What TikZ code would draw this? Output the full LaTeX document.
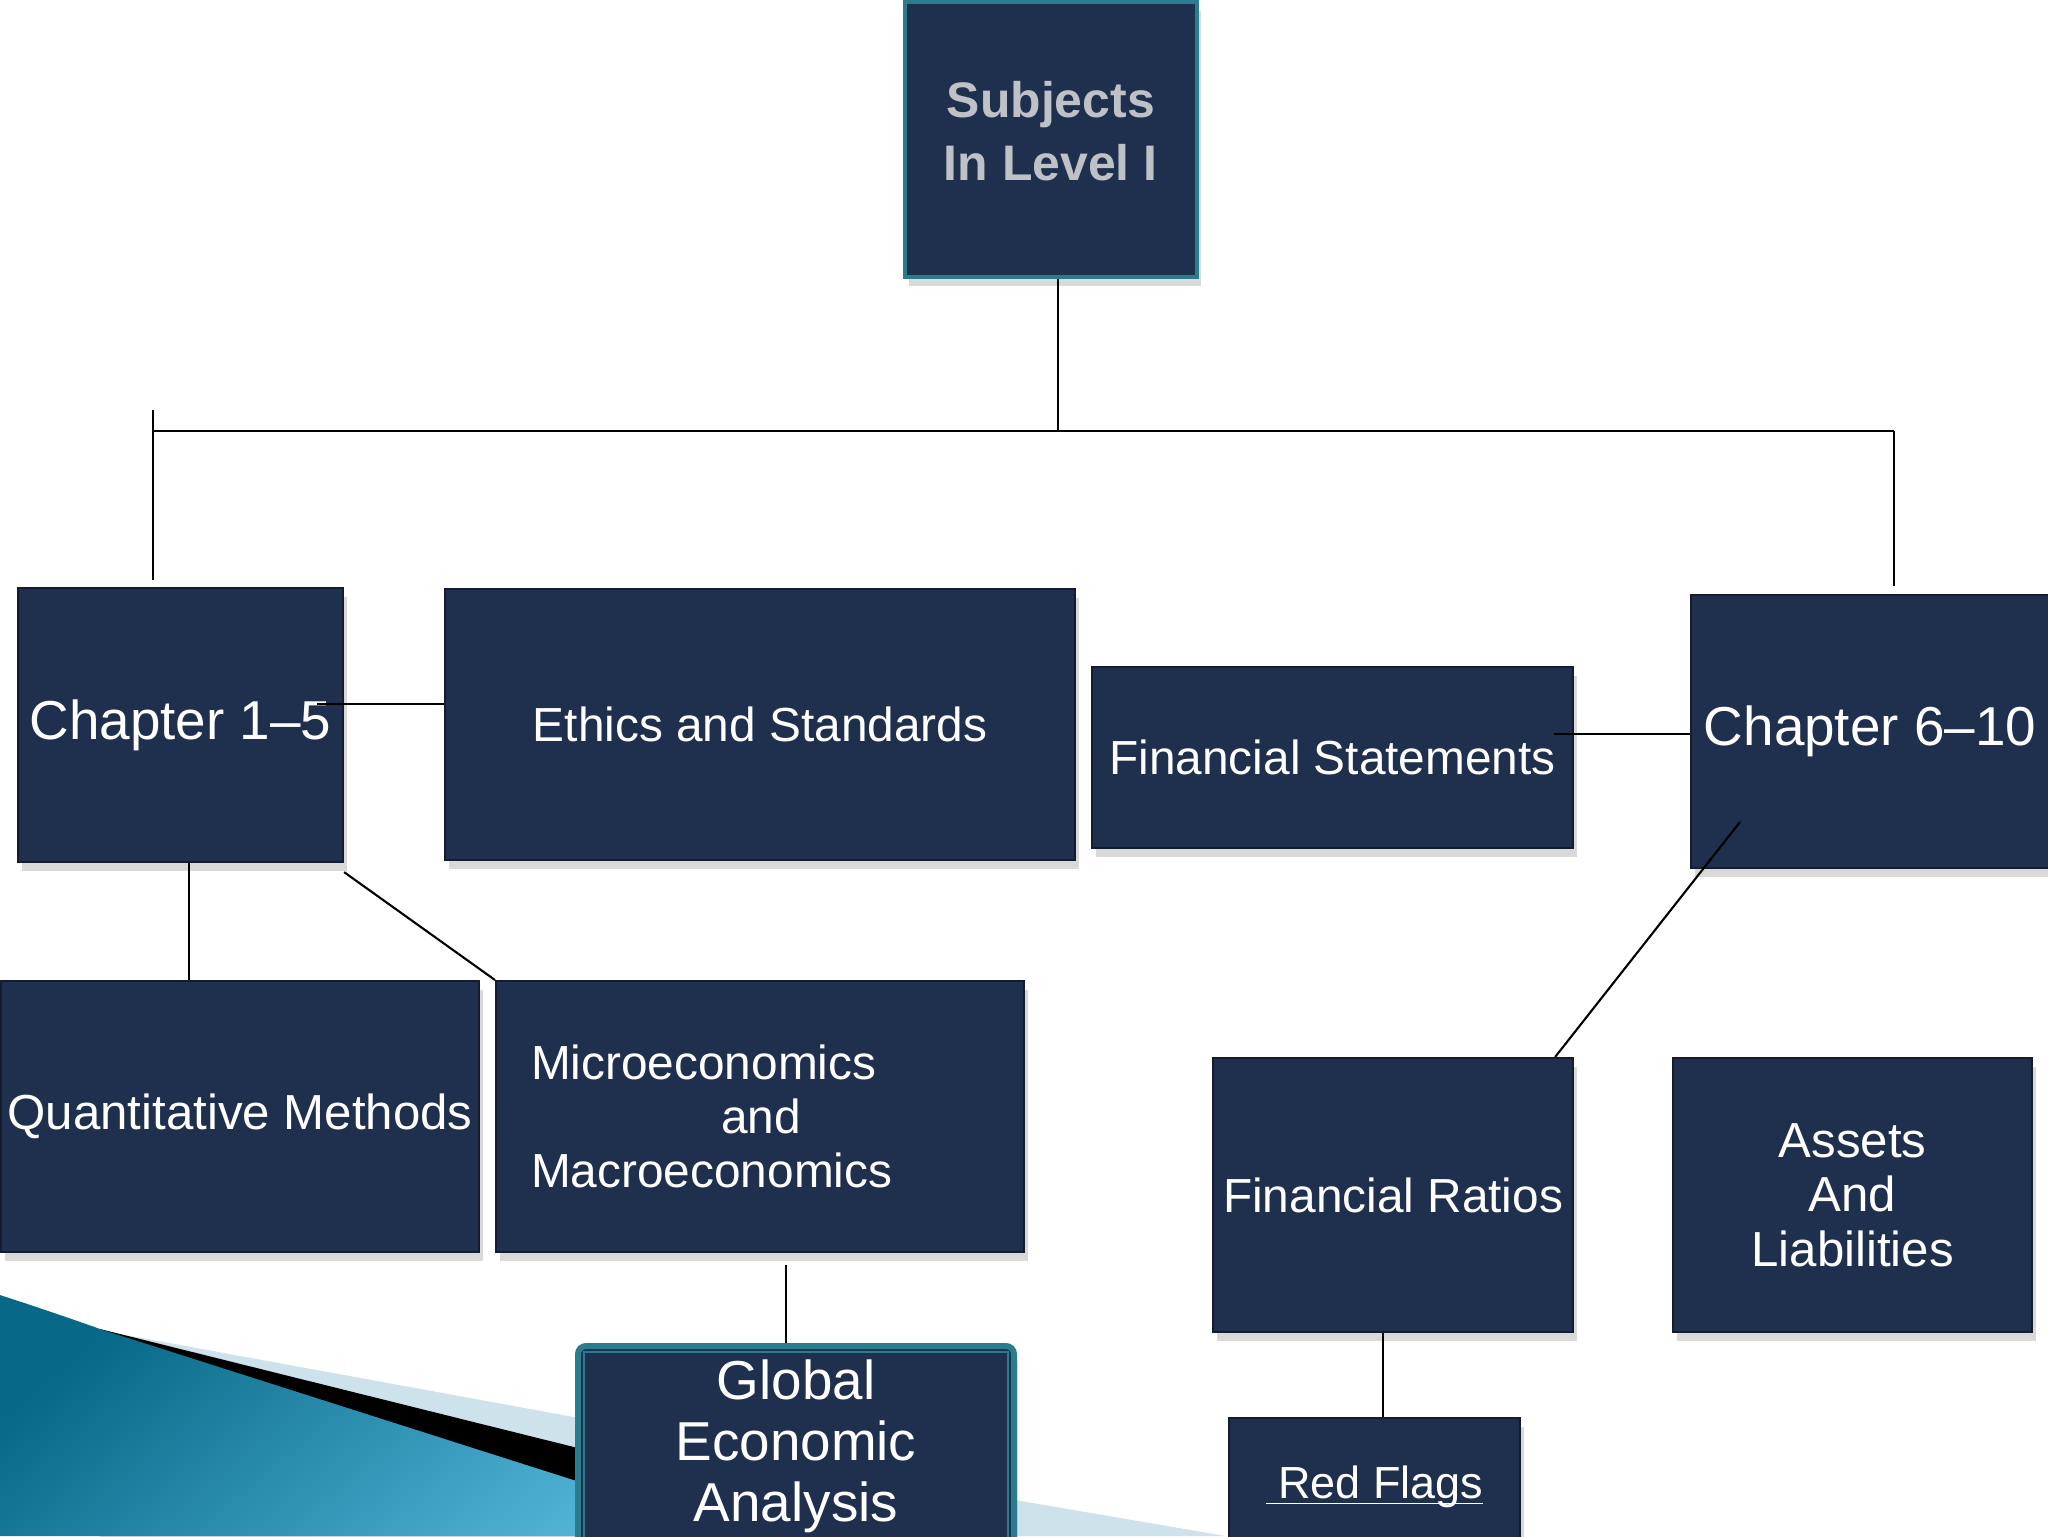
\documentclass[tikz,border=0pt]{standalone}
\usepackage{fontspec}
\setmainfont{Liberation Sans}
\usepackage{tikz}
\usetikzlibrary{shadows}
\definecolor{boxblue}{RGB}{31,48,79}
\definecolor{boxline}{RGB}{20,28,46}
\definecolor{frameteal}{RGB}{42,125,143}
\definecolor{silver}{RGB}{190,194,198}
\definecolor{swdark}{RGB}{8,104,135}
\definecolor{swlight}{RGB}{84,183,218}
\definecolor{swpale}{RGB}{206,226,235}

\begin{document}
\begin{tikzpicture}[x=0.1mm,y=-0.1mm]
  % some styles
  \tikzset{
    box/.style={
      rectangle,
      anchor=north west,
      fill=boxblue,
      draw=boxline,
      line width=0.6pt,
      text=white,
      inner sep=0pt,
      align=center,
      drop shadow={shadow xshift=0.4mm,shadow yshift=-0.9mm,opacity=0.3}
    }
  }
  \tikzset{link/.style={draw=black,line width=0.6pt}}
  \tikzset{midtext/.style={font=\fontsize{13.6pt}{15.4pt}\selectfont}}
  \tikzset{bigtext/.style={font=\fontsize{15.6pt}{17.4pt}\selectfont}}

  \useasboundingbox (0,0) rectangle (2048,1536);
  \clip (0,0) rectangle (2048,1536);

  % swoosh in the corner
  \fill[swpale] (120,1334) -- (574,1417) -- (1015,1500) -- (1226,1536) -- (100,1536) -- cycle;
  \fill[black] (100,1329) -- (574,1447) -- (935,1536) -- (100,1536) -- cycle;
  \shade[top color=swdark,bottom color=swlight,shading angle=40] (0,1295) .. controls (40,1308) and (75,1320) .. (103,1330) -- (749,1536) -- (0,1536) -- cycle;

  % boxes
  \node[box,minimum width=29.2mm,minimum height=27.5mm,draw=frameteal,line width=1pt,text=silver,
        font=\bfseries\fontsize{14.2pt}{17.9pt}\selectfont] (subj) at (903,0) {Subjects\\In Level I\rule[-1.6mm]{0pt}{0pt}};
  \node[box,bigtext,minimum width=32.5mm,minimum height=27.4mm] (ch15) at (17,587) {Chapter 1–5};
  \node[box,midtext,minimum width=63mm,minimum height=27.1mm] (ethics) at (444,588) {Ethics and Standards};
  \node[box,midtext,minimum width=48.1mm,minimum height=18.1mm] (finst) at (1091,666) {Financial Statements};
  \node[box,bigtext,minimum width=35.8mm,minimum height=27.3mm] (ch610) at (1690,594) {Chapter 6–10};
  \node[box,font=\fontsize{14pt}{15.4pt}\selectfont,minimum width=47.8mm,minimum height=27.1mm] (quant) at (0,980) {Quantitative Methods};
  \node[box,midtext,minimum width=52.8mm,minimum height=27.1mm,text width=45.8mm,inner xsep=3.5mm,align=left] (micro) at (495,980)
       {Microeconomics\\\hspace*{19mm}and\\Macroeconomics};
  \node[box,midtext,minimum width=36mm,minimum height=27.4mm] (finrat) at (1212,1057) {Financial Ratios};
  \node[box,font=\fontsize{14pt}{15.5pt}\selectfont,minimum width=35.9mm,minimum height=27.4mm] (assets) at (1672,1057) {Assets\\And\\Liabilities};
  \node[box,bigtext,minimum width=43.6mm,minimum height=20mm,draw=frameteal,line width=1.7pt,rounded corners=0.8mm] (gea) at (575,1343)
       {Global\\Economic\\Analysis};
  \draw[frameteal,line width=0.6pt] ([shift={(9,9)}]gea.north west) rectangle ([shift={(-9,-9)}]gea.south east);
  \node[box,font=\fontsize{12.8pt}{15pt}\selectfont,minimum width=29.1mm,minimum height=16.8mm] (redflags) at (1228,1417)
       {\underline{\smash{\ Red Flags}}};

  % connectors
  \coordinate (hub) at (1058,431);
  \coordinate (lend) at (153,431);
  \coordinate (rend) at (1894,431);
  \coordinate (ltick) at (153,410);
  \draw[link] (subj.south -| hub) -- (hub);
  \draw[link] (lend) -- (rend);
  \draw[link,shorten >=0.7mm] (ltick) -- (ltick |- ch15.north);
  \draw[link,shorten >=0.8mm] (rend) -- (rend |- ch610.north);

  \coordinate (c15in) at (317,704);
  \draw[link] (c15in) -- (c15in -| ethics.west);
  \coordinate (fsin) at (1554,734);
  \draw[link] (fsin) -- (fsin -| ch610.west);
  \coordinate (c610in) at (1740,822);
  \draw[link] (c610in) -- ([xshift=-1.9mm]finrat.north east);

  \coordinate (c15down) at ([xshift=0.85mm]ch15.south);
  \draw[link] (c15down) -- (c15down |- quant.north);
  \draw[link] ([yshift=-0.9mm]ch15.south east) -- (micro.north west);
  \coordinate (microdown) at ([xshift=2.6mm,yshift=-1.2mm]micro.south);
  \draw[link] (microdown) -- (microdown |- gea.north);
  \coordinate (ratdown) at ([xshift=-1mm]finrat.south);
  \draw[link] (ratdown) -- (ratdown |- redflags.north);
\end{tikzpicture}
\end{document}
